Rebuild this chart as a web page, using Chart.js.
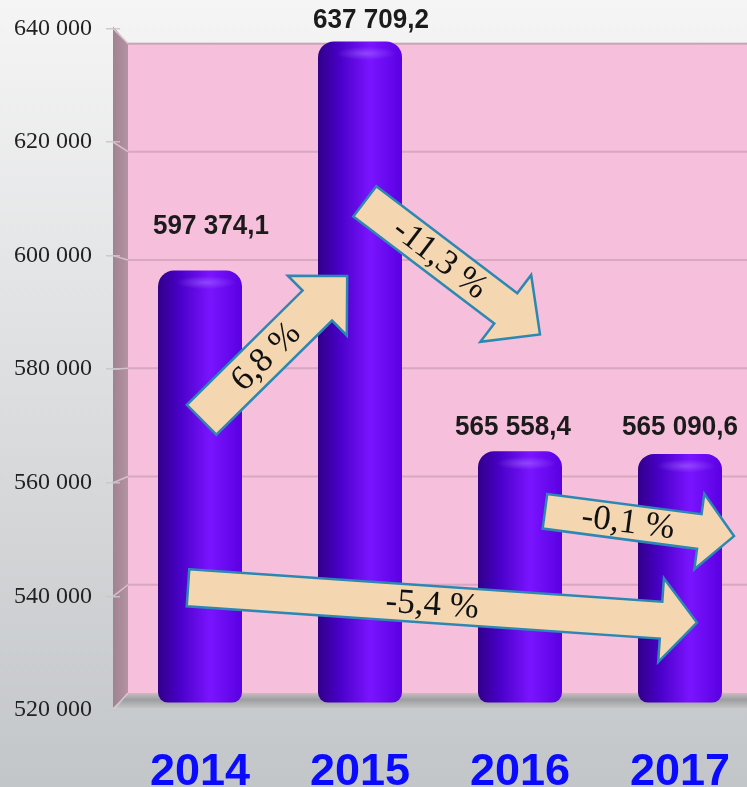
<!DOCTYPE html>
<html>
<head>
<meta charset="utf-8">
<script src="https://cdn.jsdelivr.net/npm/chart.js@4"></script>
<style>
html, body { margin: 0; padding: 0; overflow: hidden; background: #dcdee0; }
canvas { display: block; }
</style>
</head>
<body>
<canvas id="myChart" width="760" height="787"></canvas>
<script>
var years = ['2014', '2015', '2016', '2017'];
var revenue = [597374.1, 637709.2, 565558.4, 565090.6];
var valueLabels = ['597 374,1', '637 709,2', '565 558,4', '565 090,6'];
var yTicks = [520000, 540000, 560000, 580000, 600000, 620000, 640000];
var changeLabels = ['6,8 %', '-11,3 %', '-5,4 %', '-0,1 %'];

// arrow placement in chart units: [category position, value]
var arrows = [
    { text: changeLabels[0], from: [0.01, 571100], to: [0.92, 596400], shaft: 42, head: 42, headLen: 42, t: 0.44 },
    { text: changeLabels[1], from: [1.03, 609560], to: [2.125, 586120], shaft: 38, head: 42, headLen: 43, t: 0.43 },
    { text: changeLabels[2], from: [-0.075, 541520], to: [3.106, 535390], shaft: 37, head: 42, headLen: 36, t: 0.48 },
    { text: changeLabels[3], from: [2.156, 554990], to: [3.3375, 550610], shaft: 35, head: 38, headLen: 35, t: 0.44 }
];
// value label nudges [dx, dy] from bar top
var labelShift = [[11, -44], [11, -21], [-7, -24], [0, -27]];

function spaced(v) {
    return String(v).replace(/\B(?=(\d{3})+(?!\d))/g, ' ');
}

function barFill(context) {
    var chart = context.chart, xs = chart.scales.x;
    if (!xs || !chart.chartArea) return '#6a00f0';
    var cx = xs.getPixelForValue(context.dataIndex);
    var g = chart.ctx.createLinearGradient(cx - 42, 0, cx + 42, 0);
    g.addColorStop(0, '#31008a');
    g.addColorStop(0.25, '#4800c6');
    g.addColorStop(0.62, '#7a14ff');
    g.addColorStop(1, '#5a00e2');
    return g;
}

var scene = {
    id: 'scene',
    beforeDraw: function (chart) {
        var c = chart.ctx, a = chart.chartArea, ys = chart.scales.y;
        var W = chart.width, H = chart.height;
        var L = a.left - 7, B = a.left + 8;
        var bTop = a.top + 15, bBot = a.bottom - 17;
        c.save();
        var bg = c.createLinearGradient(0, 0, 0, H);
        bg.addColorStop(0, '#f5f5f5');
        bg.addColorStop(1, '#c3c6c9');
        c.fillStyle = bg;
        c.fillRect(0, 0, W, H);

        // back wall
        c.fillStyle = '#f6bfdc';
        c.fillRect(B, bTop, W - B, bBot - bTop);
        c.strokeStyle = 'rgba(170,160,165,0.8)';
        c.lineWidth = 1;
        c.beginPath(); c.moveTo(B, bTop + 0.5); c.lineTo(W, bTop + 0.5); c.stroke();

        // side wall
        c.beginPath();
        c.moveTo(L, a.top - 2); c.lineTo(B, bTop); c.lineTo(B, bBot); c.lineTo(L, a.bottom - 2);
        c.closePath();
        var sw = c.createLinearGradient(L, 0, B, 0);
        sw.addColorStop(0, '#a08290');
        sw.addColorStop(1, '#b493a2');
        c.fillStyle = sw;
        c.fill();

        // floor
        c.beginPath();
        c.moveTo(L, a.bottom - 2); c.lineTo(B, bBot); c.lineTo(W, bBot); c.lineTo(W, a.bottom - 2);
        c.closePath();
        var fl = c.createLinearGradient(0, bBot, 0, a.bottom - 2);
        fl.addColorStop(0, '#c9bcc3');
        fl.addColorStop(0.45, '#9c9ea0');
        fl.addColorStop(1, '#c4c4c6');
        c.fillStyle = fl;
        c.fill();

        // grid on the walls
        yTicks.forEach(function (v) {
            var yf = ys.getPixelForValue(v);
            var yb = bTop + (yf - a.top) / (a.bottom - a.top) * (bBot - bTop);
            if (v > yTicks[0]) {
                c.strokeStyle = 'rgba(190,150,168,0.55)';
                c.lineWidth = 2;
                c.beginPath(); c.moveTo(B, yb); c.lineTo(W, yb); c.stroke();
            }
            c.strokeStyle = 'rgba(225,205,215,0.8)';
            c.lineWidth = 1.5;
            c.beginPath(); c.moveTo(L, yf); c.lineTo(B, yb); c.stroke();
        });
        c.restore();
    },
    afterDatasetsDraw: function (chart) {
        var c = chart.ctx, xs = chart.scales.x, ys = chart.scales.y;
        c.save();
        // soft highlight on cylinder tops
        revenue.forEach(function (v, i) {
            var x = xs.getPixelForValue(i) + 6, y = ys.getPixelForValue(v) + 12;
            c.save();
            c.translate(x, y);
            c.scale(1, 0.22);
            var g = c.createRadialGradient(0, 0, 0, 0, 0, 30);
            g.addColorStop(0, 'rgba(175,130,255,0.45)');
            g.addColorStop(1, 'rgba(175,130,255,0)');
            c.fillStyle = g;
            c.beginPath(); c.arc(0, 0, 30, 0, Math.PI * 2); c.fill();
            c.restore();
        });

        // value labels
        c.font = 'bold 28px "Liberation Sans", Arial, sans-serif';
        c.fillStyle = '#1b1b1b';
        c.textAlign = 'center';
        c.textBaseline = 'middle';
        revenue.forEach(function (v, i) {
            var x = xs.getPixelForValue(i) + labelShift[i][0];
            var y = ys.getPixelForValue(v) + labelShift[i][1];
            c.save();
            c.translate(x, y);
            c.scale(0.93, 1);
            c.fillText(valueLabels[i], 0, 0);
            c.restore();
        });

        // change arrows
        arrows.forEach(function (ar) {
            var x0 = xs.getPixelForValue(0) + ar.from[0] * (xs.getPixelForValue(1) - xs.getPixelForValue(0));
            var x1 = xs.getPixelForValue(0) + ar.to[0] * (xs.getPixelForValue(1) - xs.getPixelForValue(0));
            var y0 = ys.getPixelForValue(ar.from[1]), y1 = ys.getPixelForValue(ar.to[1]);
            var len = Math.hypot(x1 - x0, y1 - y0);
            var s = ar.shaft / 2, hl = ar.headLen, hw = ar.head;
            c.save();
            c.translate(x0, y0);
            c.rotate(Math.atan2(y1 - y0, x1 - x0));
            c.beginPath();
            c.moveTo(0, -s); c.lineTo(len - hl, -s); c.lineTo(len - hl, -hw);
            c.lineTo(len, 0);
            c.lineTo(len - hl, hw); c.lineTo(len - hl, s); c.lineTo(0, s);
            c.closePath();
            c.fillStyle = '#f4d7b1';
            c.fill();
            c.lineWidth = 2.5;
            c.lineJoin = 'miter';
            c.strokeStyle = '#2c87b2';
            c.stroke();
            c.font = '35px "Liberation Serif", "Times New Roman", serif';
            c.fillStyle = '#111';
            c.textAlign = 'center';
            c.textBaseline = 'middle';
            c.fillText(ar.text, len * ar.t, 1);
            c.restore();
        });
        c.restore();
    }
};

var ctx = document.getElementById('myChart').getContext('2d');
var myChart = new Chart(ctx, {
    type: 'bar',
    data: {
        labels: years,
        datasets: [{
            data: revenue,
            base: 521300,
            backgroundColor: barFill,
            borderWidth: 0,
            borderRadius: { topLeft: 16, topRight: 16, bottomLeft: 10, bottomRight: 10 },
            borderSkipped: false,
            barPercentage: 1,
            categoryPercentage: 0.525
        }]
    },
    options: {
        responsive: false,
        animation: false,
        layout: { padding: { top: 24, left: 0, right: 0, bottom: 0 } },
        scales: {
            x: {
                grid: { display: false },
                border: { display: false },
                ticks: {
                    color: '#0a0aff',
                    font: { family: '"Liberation Sans", Arial, sans-serif', size: 45, weight: 'bold' },
                    padding: 28
                },
                afterFit: function (s) { s.height = 77; }
            },
            y: {
                min: 520000,
                max: 640000,
                afterBuildTicks: function (s) {
                    s.ticks = yTicks.map(function (v) { return { value: v }; });
                },
                grid: {
                    drawOnChartArea: false,
                    drawTicks: true,
                    tickLength: 14,
                    color: 'rgba(200,200,200,0.9)',
                    lineWidth: 1.5
                },
                border: { display: false },
                ticks: {
                    color: '#222',
                    font: { family: '"Liberation Serif", "Times New Roman", serif', size: 24 },
                    padding: 14,
                    callback: function (v) { return spaced(v); }
                },
                afterFit: function (s) { s.width = 120; }
            }
        },
        plugins: {
            legend: { display: false },
            tooltip: { enabled: false }
        }
    },
    plugins: [scene]
});
</script>
</body>
</html>
